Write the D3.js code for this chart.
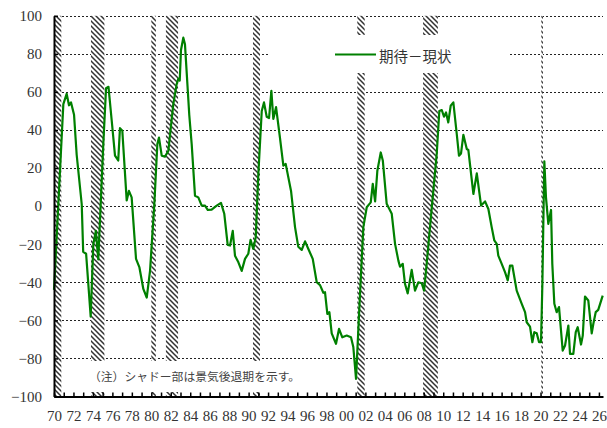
<!DOCTYPE html>
<html lang="ja">
<head>
<meta charset="UTF-8">
<title>期待－現状</title>
<style>
body { margin: 0; background: #fff; }
.axis text { font-family: "Liberation Serif", "DejaVu Serif", serif; font-size: 15px; fill: #333; }
.axis .domain { stroke: #000; stroke-width: 2; }
.axis .tick line { stroke: #000; stroke-width: 1.5; }
.grid line { stroke: #222; stroke-width: 1; stroke-dasharray: 2,2; }
</style>
</head>
<body>
<script src="https://cdn.jsdelivr.net/npm/d3@7/dist/d3.min.js"></script>
<script>
// decimal years and values
var dates = [
  1970.00, 1970.96, 1971.30, 1971.54, 1971.75, 1972.06, 1972.33, 1972.85, 1973.00, 1973.30,
  1973.77, 1974.04, 1974.30, 1974.55, 1975.07, 1975.35, 1975.60, 1975.93, 1976.27, 1976.60,
  1976.78, 1977.02, 1977.47, 1977.70, 1977.98, 1978.43, 1978.77, 1979.18, 1979.53, 1979.87,
  1980.31, 1980.62, 1980.79, 1981.07, 1981.40, 1981.75, 1982.26, 1982.60, 1982.78, 1982.92,
  1983.05, 1983.29, 1983.46, 1983.90, 1984.15, 1984.49, 1984.83, 1985.18, 1985.52, 1985.80,
  1986.20, 1986.72, 1987.16, 1987.50, 1987.85, 1988.09, 1988.37, 1988.60, 1988.95, 1989.29,
  1989.63, 1989.97, 1990.20, 1990.48, 1990.73, 1991.00, 1991.35, 1991.58, 1991.86, 1992.10,
  1992.34, 1992.54, 1992.82, 1993.22, 1993.57, 1993.81, 1994.36, 1994.77, 1995.10, 1995.46,
  1995.80, 1996.14, 1996.59, 1997.00, 1997.34, 1997.68, 1997.85, 1998.09, 1998.30, 1998.54,
  1998.98, 1999.29, 1999.63, 2000.08, 2000.52, 2000.76, 2001.04, 2001.45, 2001.79, 2002.14,
  2002.55, 2002.76, 2003.00, 2003.23, 2003.58, 2003.79, 2004.19, 2004.71, 2005.05, 2005.39,
  2005.56, 2005.84, 2006.07, 2006.35, 2006.76, 2007.10, 2007.44, 2007.79, 2008.03, 2008.30,
  2008.64, 2008.98, 2009.33, 2009.60, 2009.85, 2010.08, 2010.29, 2010.52, 2010.77, 2011.04,
  2011.39, 2011.62, 2011.83, 2012.07, 2012.42, 2012.58, 2013.10, 2013.45, 2013.89, 2014.30,
  2014.64, 2014.98, 2015.25, 2015.50, 2015.66, 2016.01, 2016.35, 2016.63, 2016.86, 2017.10,
  2017.55, 2018.07, 2018.41, 2018.58, 2018.92, 2019.16, 2019.36, 2019.61, 2019.85, 2020.05,
  2020.19, 2020.39, 2020.56, 2020.80, 2021.08, 2021.21, 2021.42, 2021.66, 2021.90, 2022.28,
  2022.52, 2022.86, 2023.03, 2023.37, 2023.62, 2023.82, 2024.16, 2024.34, 2024.57, 2024.91,
  2025.26, 2025.43, 2025.67, 2025.93, 2026.39
]
var values = [
  -44, 53.6, 59, 53, 54.5, 48, 27, 1, -24, -25,
  -58, -20, -13, -28, 33, 62, 62.7, 45, 26.5, 24,
  41, 39.6, 3, 8, 4.6, -27.7, -32, -43.5, -48, -34,
  1, 32.6, 36, 26.5, 26, 29, 53.6, 64, 67, 66,
  82, 88.5, 85, 48, 32.6, 5.5, 4.6, 0.3, 0.3, -2,
  -1.8, 0.3, 1.7, -4, -20.4, -20.7, -13, -26, -29.5, -34,
  -27.7, -25, -17.7, -22.5, -16.4, 17, 50, 54.5, 47, 46.3,
  60.6, 45.8, 52, 36, 21.3, 22.2, 8, -11, -21.3, -23,
  -18.5, -22.5, -27.7, -40, -41.5, -45.5, -45.2, -56.6, -55.7, -66.8,
  -72.3, -64.5, -68.9, -68, -68.9, -74, -90.7, -46, -11, -0.6,
  2, 11.7, 2.5, 18.6, 28.2, 24, 1.2, -4, -19.8, -28.6,
  -31.8, -30.3, -40.8, -45.8, -33.5, -44.4, -40, -40.5, -44.4, -30.3,
  -11, 8, 27.4, 50, 50.5, 47, 49.2, 44, 52.8, 54.5,
  37.9, 26.5, 27.7, 37.5, 30, 29.5, 6.4, 17.2, 0.3, 2.5,
  -1.5, -11, -18, -19.8, -26, -30.3, -34.7, -39, -31.2, -31.2,
  -44.4, -51.3, -55.7, -61, -63.3, -71.5, -66.2, -66.8, -71.5, -71.5,
  -40.8, 23.5, 4.6, -9.3, -2, -30.3, -51.3, -55.7, -53, -75.9,
  -73.2, -62.7, -77.6, -77.6, -66.2, -63.6, -72.7, -68, -47.5, -49.6,
  -66.8, -61.8, -55.7, -54.5, -47
]

// recession periods (shaded)
var recStart = [1970.0, 1973.8, 1980.0, 1981.5, 1990.45, 2001.17, 2007.93, 2020.08]
var recEnd   = [1970.75, 1975.18, 1980.47, 1982.75, 1991.17, 2001.93, 2009.45, 2020.25]

var yTicks = [-100, -80, -60, -40, -20, 0, 20, 40, 60, 80, 100]
var gridVals = [-80, -60, -40, -20, 0, 20, 40, 60, 80, 100]
var tickYears = d3.range(1970, 2027)

var seriesName = "期待－現状"
var note = "（注）シャドー部は景気後退期を示す。"

var W = 607, H = 428
var x = d3.scaleLinear().domain([1970, 2026.42]).range([54, 603])
var y = d3.scaleLinear().domain([-100, 100]).range([396.5, 15.8])

var svg = d3.select("body").append("svg")
    .attr("width", W)
    .attr("height", H)

var defs = svg.append("defs")
var pat = defs.append("pattern")
    .attr("id", "hatch")
    .attr("patternUnits", "userSpaceOnUse")
    .attr("width", 5)
    .attr("height", 5)
pat.append("rect").attr("width", 5).attr("height", 5).attr("fill", "#fff")
pat.append("path")
    .attr("d", "M-1,-1 L6,6 M-1,4 L1,6 M4,-1 L6,1")
    .attr("stroke", "#333")
    .attr("stroke-width", 1.5)

// grid
svg.append("g").attr("class", "grid")
  .selectAll("line")
  .data(gridVals)
  .enter().append("line")
    .attr("x1", x.range()[0])
    .attr("x2", x.range()[1])
    .attr("y1", function (d) { return Math.round(y(d)) + 0.5 })
    .attr("y2", function (d) { return Math.round(y(d)) + 0.5 })

// recession shading
svg.append("g").selectAll("rect")
  .data(recStart)
  .enter().append("rect")
    .attr("x", function (d) { return x(d) })
    .attr("width", function (d, i) { return x(recEnd[i]) - x(d) })
    .attr("y", y(100))
    .attr("height", y(-100) - y(100))
    .attr("fill", "url(#hatch)")

// legend box and note box (white, cover grid and shading)
svg.append("rect").attr("x", 270).attr("y", 35).attr("width", 238).attr("height", 38).attr("fill", "#fff")
svg.append("rect").attr("x", 62).attr("y", 361).attr("width", 280).attr("height", 31).attr("fill", "#fff")

// series line
var pts = dates.map(function (d, i) { return {t: d, v: values[i]} })
var line = d3.line()
    .x(function (d) { return x(d.t) })
    .y(function (d) { return y(d.v) })

svg.append("path")
    .datum(pts)
    .attr("fill", "none")
    .attr("stroke", "#008000")
    .attr("stroke-width", 2.2)
    .attr("stroke-linejoin", "round")
    .attr("d", line)

// axes
svg.append("g")
    .attr("class", "axis axis--x")
    .attr("transform", "translate(0," + y(-100) + ")")
    .call(d3.axisBottom(x)
        .tickValues(tickYears)
        .tickSizeInner(-4)
        .tickSizeOuter(0)
        .tickPadding(14)
        .tickFormat(function (d) { return d % 2 ? "" : String(d % 100).padStart(2, "0") }))
    .attr("font-family", "Liberation Serif")

svg.append("g")
    .attr("class", "axis axis--y")
    .attr("transform", "translate(" + x(1970) + ",0)")
    .call(d3.axisLeft(y)
        .tickValues(yTicks)
        .tickSizeInner(-4)
        .tickSizeOuter(0)
        .tickPadding(12)
        .tickFormat(function (d) { return d < 0 ? "\u2212" + Math.abs(d) : d }))
    .attr("font-family", "Liberation Serif")

// legend
svg.append("line")
    .attr("x1", 335).attr("x2", 376)
    .attr("y1", 54.5).attr("y2", 54.5)
    .attr("stroke", "#008000")
    .attr("stroke-width", 2.2)
svg.append("text")
    .attr("x", 379).attr("y", 61.5)
    .attr("font-family", "Noto Sans CJK JP")
    .attr("font-size", 14.5)
    .attr("fill", "#333")
    .text(seriesName)

// note
svg.append("text")
    .attr("x", 89).attr("y", 381)
    .attr("font-family", "Noto Sans CJK JP")
    .attr("font-size", 11.8)
    .attr("fill", "#444")
    .text(note)
</script>
</body>
</html>
